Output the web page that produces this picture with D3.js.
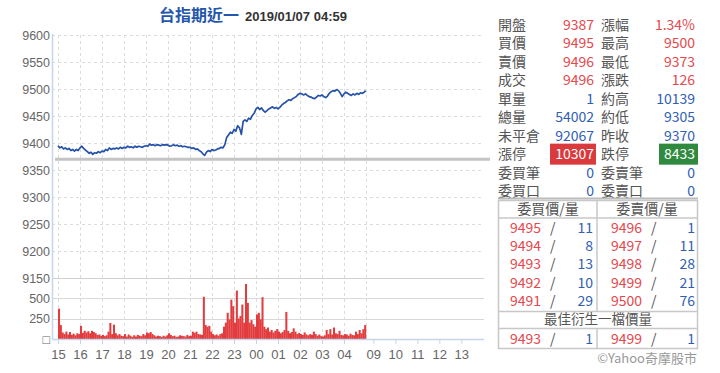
<!DOCTYPE html>
<html>
<head>
<meta charset="utf-8">
<script src="https://cdn.jsdelivr.net/npm/d3@7"></script>
<style>
  body { margin: 0; background: #fff; }
  svg { font-family: "Noto Sans CJK TC", "Noto Sans", sans-serif; }
  .axis text { fill: #666; font-size: 12.5px; }
</style>
</head>
<body>
<div id="chart"></div>
<script>
const w = 720;
const h = 373;

// price every 5 minutes from 15:00, last point is 04:59
const priceValues = [
  9395,9391,9393,9389,9391,9388,9390,9386,9388,9385,9388,9386,
  9391,9394,9390,9387,9384,9381,9383,9379,9382,9381,9384,9382,
  9385,9384,9388,9386,9391,9388,9390,9389,9391,9389,9392,9390,
  9392,9391,9394,9392,9393,9391,9394,9392,9394,9393,9392,9394,
  9395,9394,9398,9396,9397,9395,9397,9396,9395,9397,9396,9397,
  9396,9394,9395,9397,9395,9396,9394,9395,9393,9394,9393,9392,
  9392,9390,9391,9388,9389,9386,9384,9380,9377,9383,9386,9384,
  9388,9386,9387,9389,9390,9392,9391,9397,9410,9415,9420,9418,
  9425,9422,9432,9428,9416,9440,9443,9440,9446,9444,9451,9455,
  9463,9466,9462,9465,9460,9457,9460,9463,9465,9467,9464,9466,
  9463,9466,9470,9473,9475,9478,9480,9479,9482,9484,9486,9490,
  9492,9491,9489,9491,9488,9486,9485,9483,9482,9485,9488,9487,
  9489,9486,9484,9487,9492,9495,9497,9496,9499,9497,9492,9486,
  9491,9494,9492,9490,9488,9491,9489,9492,9490,9493,9492,9494,9497];

// volume per 5 minutes from 15:00
const volumes = [370,170,80,60,90,55,85,50,65,45,70,60,
  160,75,100,80,95,70,100,85,70,50,55,40,
  50,35,45,90,195,60,175,70,45,60,40,35,
  60,30,55,40,25,45,30,50,40,35,60,45,
  80,70,85,60,45,30,40,35,25,40,30,45,
  70,50,35,40,25,30,45,40,35,30,50,35,
  40,90,75,90,60,55,50,515,170,150,160,90,
  60,45,55,40,60,70,150,200,320,240,480,400,
  200,590,250,280,420,200,670,440,200,230,180,150,
  300,320,240,510,150,120,140,90,110,80,100,120,
  90,70,85,110,330,100,70,85,130,90,60,75,
  60,50,80,55,45,60,50,90,60,40,55,35,
  30,45,110,60,120,55,140,70,60,100,50,45,
  60,55,40,65,50,45,90,60,110,70,120,170];

const prevClose = 9370;
const priceTicks = [9150,9200,9250,9300,9350,9400,9450,9500,9550,9600];
const volTicks = [0,250,500];
const hourTimes = ["15:00","16:00","17:00","18:00","19:00","20:00","21:00","22:00","23:00","00:00",
  "01:00","02:00","03:00","04:00","09:00","10:00","11:00","12:00","13:00"];
const hourLabels = ["15","16","17","18","19","20","21","22","23","00","01","02","03","04","09","10","11","12","13"];

const title = "台指期近一";
const stamp = "2019/01/07 04:59";

const quoteLabelsL = ["開盤","買價","賣價","成交","單量","總量","未平倉","漲停","委買筆","委買口"];
const quoteValuesL = ["9387","9495","9496","9496","1","54002","92067","10307","0","0"];
const quoteLabelsR = ["漲幅","最高","最低","漲跌","約高","約低","昨收","跌停","委賣筆","委賣口"];
const quoteValuesR = ["1.34%","9500","9373","126","10139","9305","9370","8433","0","0"];

const bidPrices = [9495,9494,9493,9492,9491];
const bidQty = [11,8,13,10,29];
const askPrices = [9496,9497,9498,9499,9500];
const askQty = [1,11,28,21,76];
const bestBid = [9493, 1];
const bestAsk = [9499, 1];

// session minutes: night 15:00-05:00 = 0..840, day 08:45-13:45 = 845..1145
function sessionMin(t) {
  const hh = +t.slice(0, 2), mm = +t.slice(3, 5);
  if (hh >= 15) return (hh - 15) * 60 + mm;
  if (hh < 6) return (hh + 9) * 60 + mm;
  return 845 + (hh * 60 + mm - 525);
}

const left = 52, right = 484;
const x = d3.scaleLinear().domain([0, 1145]).range([58, 58 + 1145 * 22 / 60]);
const y = d3.scaleLinear().domain([9150, 9600]).range([278, 35]);
const yv = d3.scaleLinear().domain([0, 500]).range([339, 298]);

const svg = d3.select("#chart").append("svg")
  .attr("width", w)
  .attr("height", h);

// horizontal grid price pane
svg.append("g")
  .selectAll("line")
  .data(priceTicks)
  .enter()
  .append("line")
  .attr("x1", left).attr("x2", right)
  .attr("y1", d => Math.round(y(d)) + 0.5).attr("y2", d => Math.round(y(d)) + 0.5)
  .attr("stroke", d => d == 9150 ? "#d0d0d0" : "#dcdcdc")
  .attr("stroke-dasharray", d => d == 9150 ? null : "3,3");

// horizontal grid volume pane
svg.append("g")
  .selectAll("line")
  .data(volTicks.filter(d => d > 0))
  .enter()
  .append("line")
  .attr("x1", left).attr("x2", right)
  .attr("y1", d => Math.round(yv(d)) + 0.5).attr("y2", d => Math.round(yv(d)) + 0.5)
  .attr("stroke", "#d8d8d8");

// vertical dashed grid on the night session hours
const gridHours = hourTimes.slice(0, 14).concat(["05:00"]);
svg.append("g")
  .selectAll("line")
  .data(gridHours)
  .enter()
  .append("line")
  .attr("x1", d => Math.round(x(sessionMin(d))) + 0.5).attr("x2", d => Math.round(x(sessionMin(d))) + 0.5)
  .attr("y1", 35).attr("y2", 339)
  .attr("stroke", "#dcdcdc")
  .attr("stroke-dasharray", "3,3");

// previous close
svg.append("line")
  .attr("x1", 55).attr("x2", 490)
  .attr("y1", y(prevClose)).attr("y2", y(prevClose))
  .attr("stroke", "#c4c4c4")
  .attr("stroke-width", 3);

// volume bars
const step = x(5) - x(0);
svg.append("g")
  .selectAll("rect")
  .data(volumes)
  .enter()
  .append("rect")
  .attr("x", (d, i) => x(i * 5))
  .attr("width", step + 0.2)
  .attr("y", d => yv(d))
  .attr("height", d => yv(0) - yv(d))
  .attr("fill", "#e23c3e");

// price line
const pts = priceValues.map((v, i) => [Math.min(i * 5, 839), v]);
svg.append("path")
  .datum(pts)
  .attr("fill", "none")
  .attr("stroke", "#2452a8")
  .attr("stroke-width", 1.7)
  .attr("stroke-linejoin", "round")
  .attr("d", d3.line().x(d => x(d[0])).y(d => y(d[1])));

// axes
const yAxis = d3.axisLeft(y).tickValues(priceTicks).tickSize(0).tickFormat(d3.format("d"));
const gy = svg.append("g").attr("class", "axis")
  .attr("transform", "translate(" + left + ",0)")
  .call(yAxis);
gy.select(".domain").remove();
gy.selectAll("text").attr("x", -2);

const vAxis = d3.axisLeft(yv).tickValues(volTicks).tickSize(0)
  .tickFormat(d => d == 0 ? "□" : d);
const gv = svg.append("g").attr("class", "axis")
  .attr("transform", "translate(" + left + ",0)")
  .call(vAxis);
gv.select(".domain").remove();
gv.selectAll("text").attr("x", -2);

const xAxis = d3.axisBottom(x)
  .tickValues(hourTimes.map(sessionMin))
  .tickFormat((d, i) => hourLabels[i])
  .tickSize(5).tickSizeOuter(0);
const gx = svg.append("g").attr("class", "axis")
  .attr("transform", "translate(0,339)")
  .call(xAxis);
gx.select(".domain").remove();
gx.selectAll("line").attr("stroke", "#c6d6ea");
gx.selectAll("text").attr("dy", "0.9em").style("font-size", "13px");

// axis lines
svg.append("line").attr("x1", left + 0.5).attr("x2", left + 0.5).attr("y1", 34).attr("y2", 339)
  .attr("stroke", "#c6d6ea").attr("stroke-width", 1.5);
svg.append("line").attr("x1", left).attr("x2", right).attr("y1", 339.5).attr("y2", 339.5)
  .attr("stroke", "#c6d6ea").attr("stroke-width", 1.5);

// title
svg.append("text")
  .attr("x", 159).attr("y", 21)
  .style("font-size", "16px").style("font-weight", "bold")
  .attr("fill", "#2456ac")
  .text(title);
svg.append("text")
  .attr("x", 245).attr("y", 21)
  .style("font-family", "'Liberation Sans', Arial, sans-serif")
  .style("font-size", "13px").style("font-weight", "bold")
  .attr("fill", "#333")
  .text(stamp);

// quote panel
const red = "#e5484d", blue = "#3060b4", grey = "#555";
const rowY = i => 25 + i * 18.45;
const q = svg.append("g").style("font-size", "14px");
const colL = i => i < 4 ? red : blue;
const colR = i => i < 4 ? red : blue;

quoteLabelsL.forEach((lab, i) => {
  if (i == 7) {
    q.append("rect").attr("x", 550).attr("y", rowY(i) - 10.5).attr("width", 46).attr("height", 21).attr("fill", "#d93a3d");
    q.append("rect").attr("x", 659).attr("y", rowY(i) - 10.5).attr("width", 39).attr("height", 21).attr("fill", "#2f8a3f");
  }
  q.append("text").attr("x", 498).attr("y", rowY(i)).attr("dy", "0.35em").attr("fill", grey).text(lab);
  q.append("text").attr("x", 594).attr("y", rowY(i)).attr("dy", "0.35em").attr("text-anchor", "end")
    .attr("fill", i == 7 ? "#fff" : colL(i)).text(quoteValuesL[i]);
  q.append("text").attr("x", 601).attr("y", rowY(i)).attr("dy", "0.35em").attr("fill", grey).text(quoteLabelsR[i]);
  q.append("text").attr("x", 695).attr("y", rowY(i)).attr("dy", "0.35em").attr("text-anchor", "end")
    .attr("fill", i == 7 ? "#fff" : colR(i)).text(quoteValuesR[i]);
});

svg.append("line").attr("x1", 498).attr("x2", 698).attr("y1", 198.5).attr("y2", 198.5)
  .attr("stroke", "#bbb").attr("stroke-width", 2);

// order book table
const tb = svg.append("g").style("font-size", "14px");
const bx0 = 498.5, bx1 = 697.5, bmid = 597;
const bookRowY = i => 228 + i * 18.2;
tb.append("rect").attr("x", bx0).attr("y", 200.5).attr("width", bx1 - bx0).attr("height", 148)
  .attr("fill", "none").attr("stroke", "#c8c8c8").attr("stroke-width", 1.5);
[218, 311.5, 328.5].forEach(yy => {
  tb.append("line").attr("x1", bx0).attr("x2", bx1).attr("y1", yy).attr("y2", yy)
    .attr("stroke", "#c8c8c8").attr("stroke-width", 1.5);
});
tb.append("line").attr("x1", bmid).attr("x2", bmid).attr("y1", 200.5).attr("y2", 311.5)
  .attr("stroke", "#c8c8c8").attr("stroke-width", 1.5);
tb.append("line").attr("x1", bmid).attr("x2", bmid).attr("y1", 328.5).attr("y2", 348.5)
  .attr("stroke", "#c8c8c8").attr("stroke-width", 1.5);

tb.append("text").attr("x", 548).attr("y", 209.5).attr("dy", "0.35em").attr("text-anchor", "middle").attr("fill", grey).text("委買價/量");
tb.append("text").attr("x", 647).attr("y", 209.5).attr("dy", "0.35em").attr("text-anchor", "middle").attr("fill", grey).text("委賣價/量");
tb.append("text").attr("x", 598).attr("y", 319.5).attr("dy", "0.35em").attr("text-anchor", "middle")
  .style("font-size", "13.5px").attr("fill", grey).text("最佳衍生一檔價量");

function bookRow(yy, p1, v1, p2, v2) {
  tb.append("text").attr("x", 510).attr("y", yy).attr("dy", "0.35em").attr("fill", red).text(p1);
  tb.append("text").attr("x", 550).attr("y", yy).attr("dy", "0.35em").attr("fill", grey).text("/");
  tb.append("text").attr("x", 593).attr("y", yy).attr("dy", "0.35em").attr("text-anchor", "end").attr("fill", blue).text(v1);
  tb.append("text").attr("x", 611).attr("y", yy).attr("dy", "0.35em").attr("fill", red).text(p2);
  tb.append("text").attr("x", 651).attr("y", yy).attr("dy", "0.35em").attr("fill", grey).text("/");
  tb.append("text").attr("x", 695).attr("y", yy).attr("dy", "0.35em").attr("text-anchor", "end").attr("fill", blue).text(v2);
}
bidPrices.forEach((p, i) => bookRow(bookRowY(i), p, bidQty[i], askPrices[i], askQty[i]));
bookRow(339.5, bestBid[0], bestBid[1], bestAsk[0], bestAsk[1]);

svg.append("text")
  .attr("x", 697).attr("y", 358).attr("dy", "0.35em").attr("text-anchor", "end")
  .style("font-size", "13px").attr("fill", "#999")
  .text("©Yahoo奇摩股市");
</script>
</body>
</html>
